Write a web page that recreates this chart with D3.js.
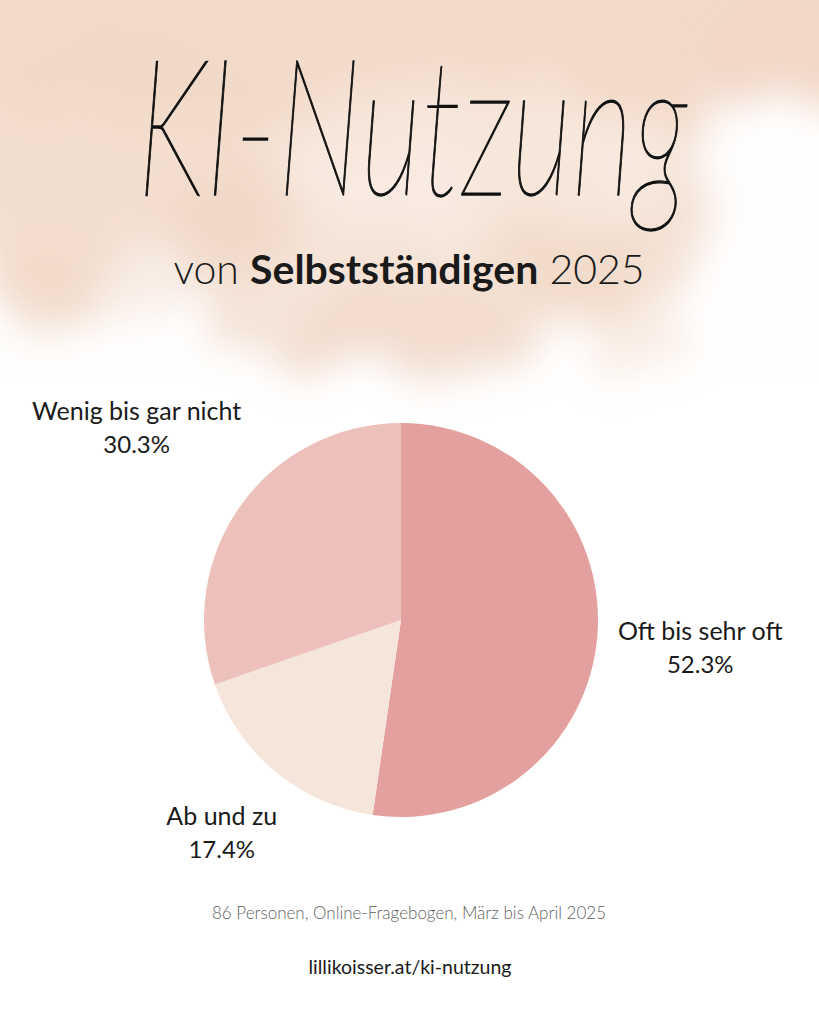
<!DOCTYPE html>
<html>
<head>
<meta charset="utf-8">
<script src="https://cdn.jsdelivr.net/npm/d3@7/dist/d3.min.js"></script>
<style>
  html, body { margin: 0; padding: 0; background: #ffffff; }
  svg { display: block; }
</style>
</head>
<body>
<svg id="chart" width="819" height="1024"></svg>
<script>
// ---- data ----
const categories = ["Oft bis sehr oft", "Ab und zu", "Wenig bis gar nicht"];
const values = [52.3, 17.4, 30.3];
const valueLabels = ["52.3%", "17.4%", "30.3%"];
const sliceColors = ["#e3a09f", "#f5e5db", "#edc0bb"];
const titleText = "KI-Nutzung";
const subtitleParts = [
  { text: "von ", weight: 300 },
  { text: "Selbstständigen", weight: 700 },
  { text: " 2025", weight: 300 }
];
const sourceText = "86 Personen, Online-Fragebogen, März bis April 2025";
const urlText = "lillikoisser.at/ki-nutzung";

// ---- layout ----
const W = 819, H = 1024;
const cx = 401, cy = 620, R = 197;
const labelR = 300;
const labelNudge = [[0, 6], [12, -18], [-20, -18]];

const svg = d3.select("#chart");
const defs = svg.append("defs");

// watercolor filter
const f = defs.append("filter").attr("id", "wc")
  .attr("x", "-20%").attr("y", "-20%").attr("width", "140%").attr("height", "140%");
f.append("feTurbulence").attr("type", "fractalNoise").attr("baseFrequency", "0.015")
  .attr("numOctaves", 4).attr("seed", 7).attr("result", "noise");
f.append("feDisplacementMap").attr("in", "SourceGraphic").attr("in2", "noise")
  .attr("scale", 70).attr("xChannelSelector", "R").attr("yChannelSelector", "G").attr("result", "disp");
f.append("feGaussianBlur").attr("in", "disp").attr("stdDeviation", 18);

const g2 = defs.append("filter").attr("id", "grain")
  .attr("x", 0).attr("y", 0).attr("width", "100%").attr("height", "100%");
g2.append("feTurbulence").attr("type", "fractalNoise").attr("baseFrequency", "0.7")
  .attr("numOctaves", 2).attr("seed", 3).attr("result", "n");
g2.append("feColorMatrix").attr("in", "n").attr("type", "matrix")
  .attr("values", "0 0 0 0 0.85  0 0 0 0 0.62  0 0 0 0 0.50  1.2 0 0 0 -0.5").attr("result", "c");
g2.append("feComposite").attr("in", "c").attr("in2", "SourceGraphic").attr("operator", "in");

svg.append("rect").attr("width", W).attr("height", H).attr("fill", "#ffffff");

const bg = svg.append("g").attr("filter", "url(#wc)");
const blobs = [
  { cx: 410, cy: 20, rx: 540, ry: 120, o: 0.95 },
  { cx: 120, cy: 170, rx: 190, ry: 150, o: 0.85 },
  { cx: 390, cy: 250, rx: 240, ry: 120, o: 0.7 },
  { cx: 600, cy: 190, rx: 130, ry: 130, o: 0.75 },
  { cx: 410, cy: 335, rx: 120, ry: 50, o: 0.55 },
  { cx: 60, cy: 290, rx: 70, ry: 40, o: 0.5 },
  { cx: 630, cy: 320, rx: 50, ry: 40, o: 0.45 },
  { cx: 790, cy: 50, rx: 90, ry: 60, o: 0.6 }
];
bg.selectAll("ellipse.b").data(blobs).join("ellipse").attr("class", "b")
  .attr("cx", d => d.cx).attr("cy", d => d.cy)
  .attr("rx", d => d.rx).attr("ry", d => d.ry)
  .attr("fill", "#f1d9c8").attr("fill-opacity", d => d.o);
// lighter washes
bg.append("ellipse").attr("cx", 470).attr("cy", 160).attr("rx", 210).attr("ry", 80)
  .attr("fill", "#fcf3ed").attr("fill-opacity", 0.45);
bg.append("ellipse").attr("cx", 150).attr("cy", 290).attr("rx", 60).attr("ry", 40)
  .attr("fill", "#ffffff").attr("fill-opacity", 0.5);
bg.append("ellipse").attr("cx", 770).attr("cy", 220).attr("rx", 70).attr("ry", 120)
  .attr("fill", "#ffffff").attr("fill-opacity", 0.85);

// grain
svg.append("rect").attr("width", W).attr("height", 380)
  .attr("fill", "#ffffff").attr("filter", "url(#grain)").attr("opacity", 0.12);

// ---- title ----
svg.append("text")
  .attr("transform", "translate(412,195) scale(1,1.9)")
  .attr("text-anchor", "middle")
  .attr("font-family", "Lato, 'Open Sans', sans-serif")
  .attr("font-style", "italic")
  .attr("font-weight", 100)
  .attr("font-size", 100)
  .attr("textLength", 550)
  .attr("lengthAdjust", "spacingAndGlyphs")
  .attr("fill", "#111")
  .attr("stroke", "#111")
  .attr("stroke-width", 0.7)
  .text(titleText);

// ---- subtitle ----
const sub = svg.append("text")
  .attr("x", 409).attr("y", 284)
  .attr("text-anchor", "middle")
  .attr("font-family", "Lato, 'Open Sans', sans-serif")
  .attr("font-size", 41)
  .attr("fill", "#1a1a1a");
sub.selectAll("tspan").data(subtitleParts).join("tspan")
  .attr("font-weight", d => d.weight)
  .text(d => d.text);

// ---- pie ----
const pie = d3.pie().sort(null).value(d => d.value).startAngle(0).endAngle(2 * Math.PI);
const rows = categories.map((c, i) => ({ cat: c, value: values[i], label: valueLabels[i], color: sliceColors[i], i }));
const arcs = pie(rows);
const arc = d3.arc().innerRadius(0).outerRadius(R);

const pg = svg.append("g").attr("transform", `translate(${cx},${cy})`);
pg.selectAll("path").data(arcs).join("path")
  .attr("d", arc)
  .attr("fill", d => d.data.color);

const lg = pg.selectAll("g.lab").data(arcs).join("g").attr("class", "lab")
  .attr("transform", d => {
    const a = (d.startAngle + d.endAngle) / 2;
    const n = labelNudge[d.data.i];
    return `translate(${Math.sin(a) * labelR + n[0]},${-Math.cos(a) * labelR + n[1]})`;
  });
lg.append("text")
  .attr("y", -8).attr("text-anchor", "middle")
  .attr("font-family", "Lato, sans-serif").attr("font-size", 25).attr("fill", "#1a1a1a")
  .text(d => d.data.cat);
lg.append("text")
  .attr("y", 25).attr("text-anchor", "middle")
  .attr("font-family", "Lato, sans-serif").attr("font-size", 24).attr("fill", "#1a1a1a")
  .text(d => d.data.label);

// ---- footer ----
svg.append("text").attr("x", 409).attr("y", 919).attr("text-anchor", "middle")
  .attr("font-family", "Lato, sans-serif").attr("font-weight", 300).attr("font-size", 17)
  .attr("fill", "#5f5f5f").text(sourceText);
svg.append("text").attr("x", 410).attr("y", 974).attr("text-anchor", "middle")
  .attr("font-family", "Lato, sans-serif").attr("font-weight", 400).attr("font-size", 19.5)
  .attr("fill", "#1a1a1a").text(urlText);
</script>
</body>
</html>
